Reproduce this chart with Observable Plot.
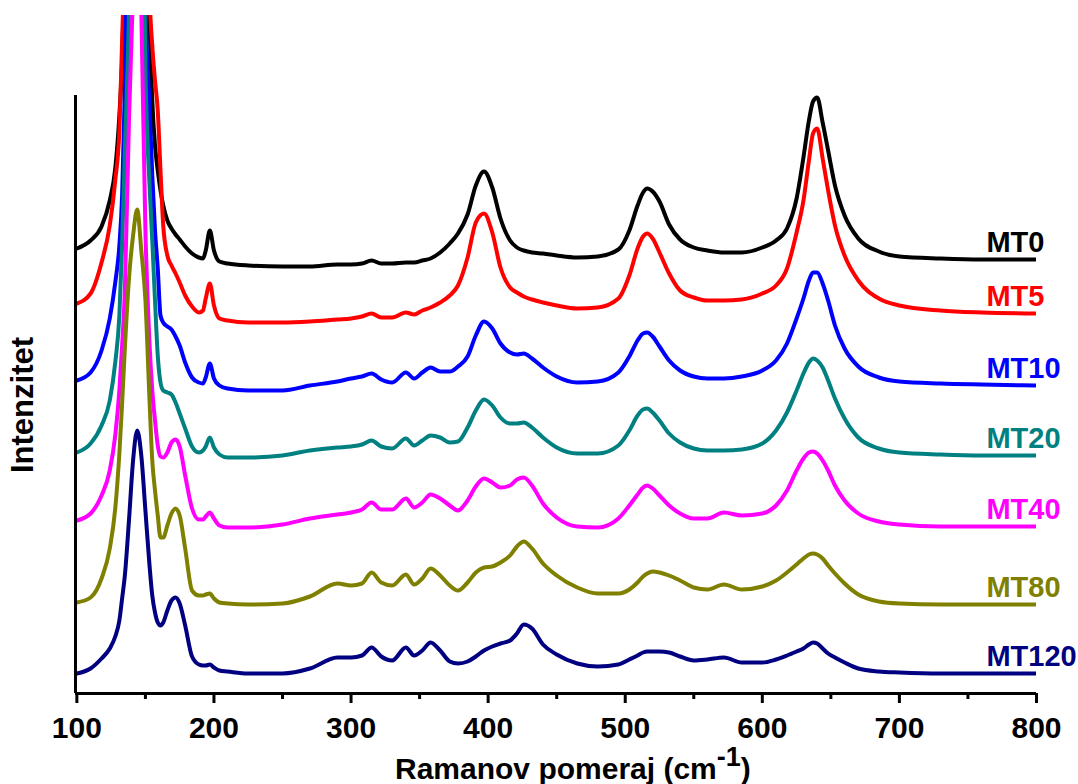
<!DOCTYPE html>
<html><head><meta charset="utf-8">
<script src="https://cdn.jsdelivr.net/npm/d3@7"></script>
<script src="https://cdn.jsdelivr.net/npm/@observablehq/plot@0.6"></script>
<style>
html,body{margin:0;padding:0;background:#fff;overflow:hidden;}
</style></head><body><div id="chart"></div>
<script>
// Raman shift (cm^-1) sampling grid
const shift = [100,110,118,124,128,131,133,135,138,141,144,147,150,153,155,157,159,161,163,166,169,172,175,179,184,189,192,194,197,200,204,210,225,250,270,290,300,308,315,322,330,340,346,352,358,365,372,378,385,391,397,403,409,416,421,426,432,440,450,465,480,495,503,509,513,516,520,525,532,540,550,560,572,585,600,610,618,625,630,634,637,640,644,648,653,660,670,685,700,730,760,800];

// Stacked intensities (a.u., offsets included)
const mt0 = [445,453,467,493,525,578,633,733,993,1193,1253,1173,943,673,593,548,523,503,488,473,465,459,454,447,440,436,435,443,463,443,432,430,428,427,427,429,429,430,433,430,430,431,431,433,435,441,450,460,479,508,522,506,475,453,446,443,441,440,438,436,437,444,463,488,501,505,502,492,469,454,446,443,441,441,446,453,465,495,536,573,592,596,571,543,508,478,455,442,437,435,434,434];
const mt5 = [390,400,431,468,513,563,653,753,1043,1243,1293,1213,993,703,648,613,583,523,468,438,428,420,411,398,387,381,383,395,410,388,375,373,371,371,372,374,375,377,380,376,376,381,379,383,386,391,398,408,436,471,480,461,426,406,401,397,394,391,388,385,386,395,418,445,457,460,455,441,420,403,396,393,393,394,400,408,425,461,493,533,560,565,535,503,468,438,413,395,388,383,381,380];
const mt10 = [313,321,343,375,411,448,498,603,893,1093,1143,1073,693,588,518,463,425,378,371,367,364,357,348,331,316,311,310,316,330,315,308,305,303,303,308,312,315,317,320,314,311,321,315,321,326,322,322,327,337,358,372,365,350,341,339,340,335,326,317,311,312,321,337,353,360,361,357,347,333,323,317,315,315,317,323,333,350,375,395,413,421,421,410,393,368,345,327,316,312,310,309,308];
const mt20 = [241,250,268,293,331,378,448,543,683,993,1093,943,623,508,453,393,338,311,303,301,299,291,280,265,247,241,243,247,256,246,239,236,236,238,243,246,247,249,253,247,245,255,248,253,258,256,251,252,266,283,294,288,276,270,270,271,266,256,246,240,240,248,263,278,284,285,281,273,260,251,245,243,243,244,250,263,281,303,320,331,335,333,326,313,295,275,256,245,241,239,238,238];
const mt40 = [173,180,198,223,258,303,348,403,573,703,843,683,463,350,303,273,248,237,236,241,251,254,247,218,185,174,174,177,181,175,168,166,166,169,175,179,181,184,191,184,184,195,186,191,199,195,188,183,193,207,215,211,206,208,214,216,208,190,176,167,166,175,188,199,206,208,205,198,188,180,175,175,181,178,180,188,203,223,235,241,242,240,233,223,208,193,180,172,169,167,167,167];
const mt80 = [91,96,115,145,185,240,290,345,415,458,484,443,393,293,233,203,178,156,156,168,180,185,178,145,103,98,98,99,100,95,91,90,89,90,97,110,108,110,121,111,108,119,109,115,125,118,108,103,111,121,126,127,131,138,147,152,145,130,118,106,100,100,104,111,117,120,122,121,118,113,106,104,109,104,107,113,121,129,135,139,140,139,135,128,120,110,99,92,90,89,89,89];
const mt120 = [20,25,35,45,57,73,95,118,173,233,263,238,183,128,98,81,71,68,71,83,93,96,90,68,37,29,28,28,29,26,23,22,20,20,25,36,36,38,46,37,33,46,38,43,51,43,32,30,32,37,43,47,50,53,60,69,65,49,39,30,27,29,34,38,41,42,42,42,41,37,33,34,36,31,31,34,38,42,45,49,51,50,45,40,36,31,25,22,21,20,20,20];

const seriesNames = ["MT0","MT5","MT10","MT20","MT40","MT80","MT120"];
const seriesColors = ["#000000","#ff0000","#0000ff","#008080","#ff00ff","#808000","#000080"];
const majorTicks = [100,200,300,400,500,600,700,800];
const minorTicks = [150,250,350,450,550,650,750];

const allSeries = [mt0, mt5, mt10, mt20, mt40, mt80, mt120];
const rows = [];
seriesNames.forEach((name, i) => shift.forEach((x, j) => rows.push({series: name, x, y: allSeries[i][j]})));

const xMin = 99, xMax = 800;
const yTop = 678;
const axisTop = 598;
const labelX = 763.5;
const labels = seriesNames.map((name, i) => ({series: name, x: labelX, y: allSeries[i][allSeries[i].length - 1]}));

const chart = Plot.plot({
  width: 1078, height: 784,
  marginLeft: 75, marginRight: 42, marginTop: 15, marginBottom: 91,
  style: {fontFamily: "Arial, 'Liberation Sans', sans-serif", fontWeight: "bold", background: "white", color: "black"},
  x: {domain: [xMin, xMax], label: null},
  y: {domain: [0, yTop], axis: null},
  color: {domain: seriesNames, range: seriesColors},
  marks: [
    Plot.line(rows, {x: "x", y: "y", z: "series", stroke: "series", strokeWidth: 4, curve: "monotone-x", clip: true}),
    Plot.ruleY([0], {x1: xMin, x2: xMax, strokeWidth: 3}),
    Plot.ruleX([xMin], {y1: 0, y2: axisTop, strokeWidth: 3}),
    Plot.axisX({ticks: majorTicks, tickSize: 10, tickPadding: 13, fontSize: 30, strokeWidth: 3, tickFormat: d => String(d), label: null}),
    Plot.axisX({ticks: minorTicks, tickSize: 6, strokeWidth: 3, tickFormat: () => "", label: null}),
    Plot.text(labels, {x: "x", y: "y", text: "series", fill: "series", textAnchor: "start", dy: -17, fontSize: 29})
  ]
});

const svg = d3.select(chart);
svg.append("text")
  .attr("transform", "translate(33,405) rotate(-90)")
  .attr("text-anchor", "middle")
  .attr("font-size", 31).attr("font-weight", "bold").attr("fill", "black")
  .text("Intenzitet");

const title = svg.append("text")
  .attr("x", 395).attr("y", 779)
  .attr("text-anchor", "start")
  .attr("font-size", 30).attr("font-weight", "bold").attr("fill", "black");
title.append("tspan").text("Ramanov pomeraj (cm");
title.append("tspan").attr("dy", -13).attr("font-size", 27).text("-1");
title.append("tspan").attr("dy", 13).attr("font-size", 30).text(")");

document.getElementById("chart").appendChild(chart);
</script>
</body></html>
